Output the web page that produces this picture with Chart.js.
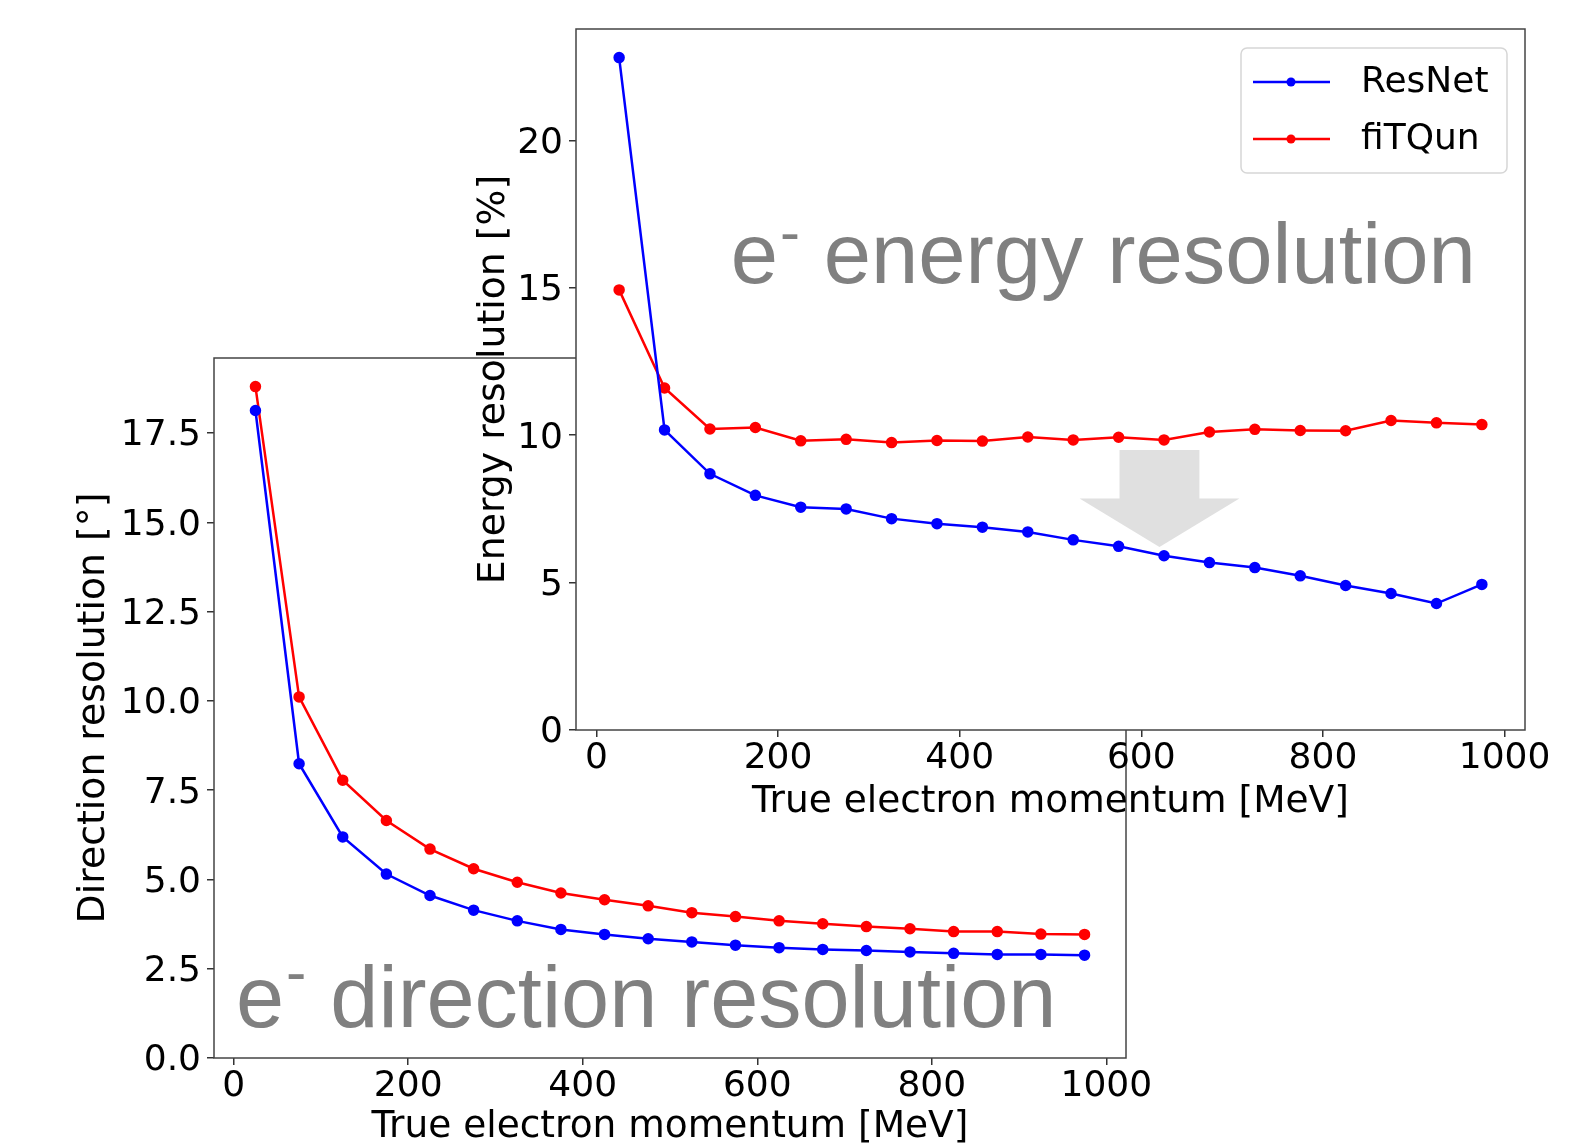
<!DOCTYPE html>
<html>
<head>
<meta charset="utf-8">
<script src="https://cdn.jsdelivr.net/npm/chart.js@4"></script>
<style>
  html, body { margin: 0; padding: 0; background: #fff; }
  body { width: 1581px; height: 1144px; position: relative; overflow: hidden; }
  canvas { position: absolute; left: 0; top: 0; }
</style>
</head>
<body>
<canvas id="dirChart" width="1581" height="1144"></canvas>
<canvas id="energyChart" width="1581" height="1144"></canvas>
<script>
// momentum bin centres [MeV]
const momentum = [25, 75, 125, 175, 225, 275, 325, 375, 425, 475, 525, 575, 625, 675, 725, 775, 825, 875, 925, 975];

// direction resolution [deg]
const dirResNet = [18.13, 8.24, 6.19, 5.15, 4.55, 4.14, 3.84, 3.60, 3.46, 3.34, 3.25, 3.16, 3.09, 3.04, 3.01, 2.97, 2.93, 2.90, 2.90, 2.88];
const dirFiTQun = [18.80, 10.11, 7.78, 6.65, 5.85, 5.30, 4.92, 4.62, 4.43, 4.26, 4.07, 3.96, 3.84, 3.76, 3.68, 3.62, 3.54, 3.54, 3.47, 3.46];

// energy resolution [%]
const energyResNet = [22.81, 10.18, 8.69, 7.96, 7.56, 7.50, 7.17, 7.00, 6.88, 6.72, 6.45, 6.23, 5.91, 5.68, 5.51, 5.23, 4.90, 4.63, 4.29, 4.94];
const energyFiTQun = [14.93, 11.60, 10.21, 10.26, 9.81, 9.86, 9.75, 9.82, 9.80, 9.94, 9.84, 9.93, 9.84, 10.11, 10.20, 10.16, 10.15, 10.50, 10.42, 10.36];

const xTicks = [0, 200, 400, 600, 800, 1000];
const dirTicks = [0, 2.5, 5, 7.5, 10, 12.5, 15, 17.5];
const energyTicks = [0, 5, 10, 15, 20];

const seriesNames = ["ResNet", "fiTQun"];
const seriesColors = ["#0000ff", "#ff0000"];

const FONT = '"DejaVu Sans", sans-serif';
const NOTE_FONT = '"Liberation Sans", Arial, sans-serif';

Chart.defaults.font.family = FONT;
Chart.defaults.color = "#000";

const toPoints = (ys) => momentum.map((x, i) => ({ x: x, y: ys[i] }));

const makeDatasets = (a, b) => [a, b].map((ys, i) => ({
  label: seriesNames[i],
  data: toPoints(ys),
  borderColor: seriesColors[i],
  backgroundColor: seriesColors[i],
  borderWidth: 2.5,
  pointRadius: 4.5,
  pointHoverRadius: 4.5,
  tension: 0,
}));

// white axes background + full box frame (matplotlib spines)
const framePlugin = {
  id: "frame",
  beforeDraw(chart) {
    const { ctx, chartArea: a } = chart;
    ctx.save();
    ctx.fillStyle = "#fff";
    ctx.fillRect(a.left, a.top, a.right - a.left, a.bottom - a.top);
    ctx.restore();
  },
  afterDraw(chart) {
    const { ctx, chartArea: a } = chart;
    ctx.save();
    ctx.strokeStyle = "#444";
    ctx.lineWidth = 1.5;
    ctx.strokeRect(a.left, a.top, a.right - a.left, a.bottom - a.top);
    ctx.restore();
  },
};

// big grey "e- ... resolution" label and the arrow, placed in data coordinates
const notePlugin = {
  id: "note",
  beforeDatasetsDraw(chart, args, opts) {
    if (!opts.arrow) return;
    const { ctx, scales } = chart;
    const px = (v) => scales.x.getPixelForValue(v);
    const py = (v) => scales.y.getPixelForValue(v);
    const ar = opts.arrow;
    ctx.save();
    ctx.fillStyle = "#e0e0e0";
    ctx.beginPath();
    ctx.moveTo(px(ar.shaftL), py(ar.top));
    ctx.lineTo(px(ar.shaftR), py(ar.top));
    ctx.lineTo(px(ar.shaftR), py(ar.neck));
    ctx.lineTo(px(ar.headR), py(ar.neck));
    ctx.lineTo(px(ar.tipX), py(ar.tipY));
    ctx.lineTo(px(ar.headL), py(ar.neck));
    ctx.lineTo(px(ar.shaftL), py(ar.neck));
    ctx.closePath();
    ctx.fill();
    ctx.restore();
  },
  afterDatasetsDraw(chart, args, opts) {
    if (!opts.word) return;
    const { ctx, scales } = chart;
    const x = scales.x.getPixelForValue(opts.x);
    const y = scales.y.getPixelForValue(opts.y);
    const big = opts.size + "px " + NOTE_FONT;
    ctx.save();
    ctx.fillStyle = "#808080";
    ctx.textAlign = "left";
    ctx.textBaseline = "alphabetic";
    ctx.font = big;
    ctx.fillText("e", x, y);
    let cx = x + ctx.measureText("e").width + 2;
    ctx.font = Math.round(opts.size * 0.71) + "px " + NOTE_FONT;
    ctx.fillText("-", cx, y - opts.raise);
    cx += ctx.measureText("-").width;
    ctx.font = big;
    ctx.fillText(" " + opts.word, cx, y);
    ctx.restore();
  },
};

// matplotlib-like legend: line with a dot, framed box in the upper right
const boxLegend = {
  id: "boxLegend",
  afterDraw(chart, args, opts) {
    if (!opts.show) return;
    const { ctx, chartArea: a } = chart;
    const w = 266, h = 125;
    const x0 = a.right - 18 - w, y0 = a.top + 19;
    ctx.save();
    ctx.beginPath();
    ctx.roundRect(x0, y0, w, h, 6);
    ctx.fillStyle = "rgba(255,255,255,0.8)";
    ctx.fill();
    ctx.strokeStyle = "#d6d6d6";
    ctx.lineWidth = 1.5;
    ctx.stroke();
    chart.data.datasets.forEach((ds, i) => {
      const yy = y0 + 34 + i * 57;
      ctx.strokeStyle = ds.borderColor;
      ctx.lineWidth = 2.5;
      ctx.beginPath();
      ctx.moveTo(x0 + 12, yy);
      ctx.lineTo(x0 + 89, yy);
      ctx.stroke();
      ctx.fillStyle = ds.borderColor;
      ctx.beginPath();
      ctx.arc(x0 + 50, yy, 4.5, 0, Math.PI * 2);
      ctx.fill();
      ctx.fillStyle = "#000";
      ctx.font = "36px " + FONT;
      ctx.textAlign = "left";
      ctx.textBaseline = "middle";
      ctx.fillText(ds.label, x0 + 120, yy + 1);
    });
    ctx.restore();
  },
};

const fixTicks = (list) => (scale) => {
  scale.ticks = list.map((v) => ({ value: v }));
};

// an empty first line with a tiny line height nudges the y labels down a few px
const lowered = (fmt) => (v) => ["", fmt(v)];

const createChart = (canvasId, cfg) => {
  return new Chart(document.getElementById(canvasId), {
    type: "line",
    data: { datasets: cfg.datasets },
    plugins: [framePlugin, notePlugin, boxLegend],
    options: {
      responsive: false,
      animation: false,
      devicePixelRatio: 1,
      layout: { padding: cfg.padding },
      plugins: {
        legend: { display: false },
        tooltip: { enabled: false },
        note: cfg.note,
        boxLegend: { show: cfg.legend },
      },
      scales: {
        x: {
          type: "linear",
          min: -22.5,
          max: 1022.5,
          afterBuildTicks: fixTicks(xTicks),
          afterFit: (s) => { s.height = cfg.xHeight; s.paddingLeft = 0; s.paddingRight = 0; },
          border: { display: false },
          grid: { drawOnChartArea: false, tickLength: 7, color: "#333", lineWidth: 1.5 },
          ticks: {
            autoSkip: false,
            maxRotation: 0,
            padding: 4,
            font: { size: 36, lineHeight: 1 },
            callback: (v) => String(v),
          },
          title: {
            display: true,
            text: "True electron momentum [MeV]",
            font: { size: 37.5, lineHeight: 1 },
            padding: { top: 0, bottom: cfg.xTitlePad },
          },
        },
        y: {
          type: "linear",
          min: 0,
          max: cfg.yMax,
          afterBuildTicks: fixTicks(cfg.yTicks),
          afterFit: (s) => { s.width = cfg.yWidth; s.paddingTop = 0; s.paddingBottom = 0; },
          border: { display: false },
          grid: { drawOnChartArea: false, tickLength: 7, color: "#333", lineWidth: 1.5 },
          ticks: {
            autoSkip: false,
            padding: 6,
            font: { size: 36, lineHeight: "6px" },
            callback: lowered(cfg.yFormat),
          },
          title: {
            display: true,
            text: cfg.yTitle,
            font: { size: 37.8, lineHeight: 1.2 },
            padding: { top: cfg.yTitlePad, bottom: 0 },
          },
        },
      },
    },
  });
};

// lower-left panel: direction resolution
createChart("dirChart", {
  datasets: makeDatasets(dirResNet, dirFiTQun),
  padding: { left: 0, top: 358, right: 455, bottom: 0 },
  xHeight: 86,
  xTitlePad: -2,
  yWidth: 214,
  yMax: 19.6,
  yTicks: dirTicks,
  yFormat: (v) => v.toFixed(1),
  yTitle: "Direction resolution [°]",
  yTitlePad: 71,
  legend: false,
  note: { word: "direction resolution", x: 2.6, y: 0.88, raise: 34, size: 86.5 },
});

// upper-right panel: energy resolution
createChart("energyChart", {
  datasets: makeDatasets(energyResNet, energyFiTQun),
  padding: { left: 0, top: 29, right: 56, bottom: 314 },
  xHeight: 100,
  xTitlePad: 9,
  yWidth: 576,
  yMax: 23.78,
  yTicks: energyTicks,
  yFormat: (v) => String(v),
  yTitle: "Energy resolution [%]",
  yTitlePad: 471,
  legend: true,
  note: {
    word: "energy resolution", x: 148, y: 15.16, raise: 31, size: 85,
    arrow: { shaftL: 576, shaftR: 664, headL: 532, headR: 708, tipX: 620, top: 9.5, neck: 7.85, tipY: 6.21 },
  },
});
</script>
</body>
</html>
